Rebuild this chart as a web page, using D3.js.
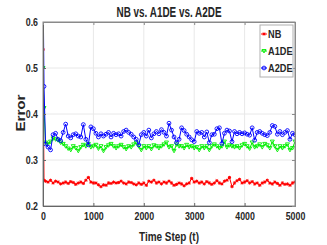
<!DOCTYPE html>
<html><head><meta charset="utf-8">
<script src="https://cdn.jsdelivr.net/npm/d3@7"></script>
<style>
html,body{margin:0;padding:0;background:#fff;}
svg text{font-family:"Liberation Sans",Arial,sans-serif;font-weight:bold;fill:#262626;}
</style></head><body>
<svg id="c" width="327" height="245"></svg>
<script>
const timeSteps = [0, 20].concat(d3.range(50, 5001, 50));
const xTicks = [0, 1000, 2000, 3000, 4000, 5000];
const yTicks = [0.2, 0.3, 0.4, 0.5, 0.6];
const seriesNames = ["NB", "A1DE", "A2DE"];

const nbValues = [0.54, 0.256, 0.254, 0.252, 0.256, 0.25, 0.254, 0.252, 0.248, 0.25, 0.252,
 0.249, 0.253, 0.251, 0.247, 0.25, 0.252, 0.249, 0.256, 0.262, 0.252,
 0.25, 0.25, 0.246, 0.242, 0.246, 0.245, 0.25, 0.249, 0.252, 0.25,
 0.251, 0.254, 0.25, 0.248, 0.252, 0.251, 0.248, 0.246, 0.25, 0.247,
 0.25, 0.245, 0.254, 0.252, 0.256, 0.25, 0.252, 0.248, 0.252, 0.25,
 0.254, 0.25, 0.245, 0.247, 0.25, 0.248, 0.244, 0.248, 0.25, 0.26,
 0.252, 0.254, 0.25, 0.252, 0.248, 0.253, 0.25, 0.247, 0.25, 0.255,
 0.25, 0.248, 0.254, 0.256, 0.262, 0.242, 0.25, 0.255, 0.258, 0.25,
 0.252, 0.255, 0.25, 0.253, 0.248, 0.25, 0.245, 0.25, 0.252, 0.256,
 0.25, 0.248, 0.252, 0.249, 0.245, 0.25, 0.247, 0.248, 0.245, 0.25, 0.252];

const a1deValues = [0.50, 0.413, 0.338, 0.335, 0.340, 0.347, 0.345, 0.343, 0.338, 0.335, 0.330,
 0.325, 0.322, 0.33, 0.326, 0.32, 0.328, 0.333, 0.33, 0.335, 0.328,
 0.33, 0.333, 0.325, 0.33, 0.32, 0.328, 0.332, 0.335, 0.33, 0.326,
 0.33, 0.333, 0.328, 0.324, 0.33, 0.328, 0.334, 0.338, 0.33, 0.322,
 0.33, 0.326, 0.33, 0.324, 0.332, 0.33, 0.326, 0.33, 0.334, 0.338,
 0.328, 0.33, 0.32, 0.334, 0.33, 0.33, 0.326, 0.333, 0.328, 0.33,
 0.326, 0.328, 0.322, 0.33, 0.326, 0.33, 0.322, 0.33, 0.334, 0.33,
 0.326, 0.33, 0.34, 0.328, 0.332, 0.33, 0.328, 0.33, 0.326, 0.332,
 0.335, 0.33, 0.325, 0.338, 0.328, 0.33, 0.334, 0.328, 0.335, 0.332,
 0.326, 0.34, 0.33, 0.322, 0.33, 0.326, 0.33, 0.334, 0.322, 0.326, 0.34];

const a2deValues = [0.70, 0.46, 0.335, 0.328, 0.322, 0.355, 0.358, 0.345, 0.342, 0.36, 0.378,
 0.352, 0.348, 0.355, 0.357, 0.352, 0.35, 0.377, 0.345, 0.333, 0.372,
 0.368, 0.358, 0.35, 0.357, 0.352, 0.356, 0.36, 0.35, 0.358, 0.355,
 0.357, 0.352, 0.362, 0.365, 0.36, 0.356, 0.35, 0.345, 0.333, 0.355,
 0.36, 0.352, 0.365, 0.348, 0.357, 0.362, 0.357, 0.366, 0.36, 0.352,
 0.38, 0.365, 0.35, 0.338, 0.345, 0.37, 0.364, 0.356, 0.35, 0.344,
 0.34, 0.362, 0.358, 0.36, 0.35, 0.361, 0.338, 0.355, 0.356, 0.368,
 0.37, 0.336, 0.358, 0.365, 0.363, 0.34, 0.362, 0.357, 0.36, 0.357,
 0.359, 0.356, 0.354, 0.37, 0.343, 0.36, 0.362, 0.358, 0.355, 0.353,
 0.36, 0.375, 0.373, 0.356, 0.362, 0.355, 0.36, 0.364, 0.345, 0.358, 0.355];

const colors = ["#ff0000", "#00ee00", "#0000ff"];
const allValues = [nbValues, a1deValues, a2deValues];

const svg = d3.select("#c");
const L = 43, R = 295, T = 22, B = 206;
const x = d3.scaleLinear().domain([0, 5000]).range([L, R]);
const y = d3.scaleLinear().domain([0.2, 0.6]).range([B, T]);

function condense(sel, ratio) {
  sel.each(function () {
    const w = this.getComputedTextLength();
    if (w > 0) d3.select(this).attr("textLength", w * ratio).attr("lengthAdjust", "spacingAndGlyphs");
  });
}

// grid
svg.append("g").selectAll("line").data(xTicks.slice(1, -1)).join("line")
  .attr("x1", d => x(d)).attr("x2", d => x(d)).attr("y1", T).attr("y2", B)
  .attr("stroke", "#e8e8e8").attr("stroke-width", 1);
svg.append("g").selectAll("line").data(yTicks.slice(1, -1)).join("line")
  .attr("y1", d => y(d)).attr("y2", d => y(d)).attr("x1", L).attr("x2", R)
  .attr("stroke", "#e8e8e8").attr("stroke-width", 1);

svg.append("defs").append("clipPath").attr("id", "clip")
  .append("rect").attr("x", L).attr("y", T).attr("width", R - L).attr("height", B - T);

const plot = svg.append("g").attr("clip-path", "url(#clip)");
const line = d3.line().x((d, i) => x(timeSteps[i])).y(d => y(d));

function drawMarker(g, k, cx, cy, c) {
  if (k === 0) {
    g.append("path").attr("d", `M${cx-1.6},${cy}H${cx+1.6}M${cx},${cy-1.6}V${cy+1.6}M${cx-1.2},${cy-1.2}L${cx+1.2},${cy+1.2}M${cx-1.2},${cy+1.2}L${cx+1.2},${cy-1.2}`)
      .attr("stroke", c).attr("stroke-width", 1).attr("fill", "none");
  } else if (k === 1) {
    g.append("path").attr("d", `M${cx-2},${cy-1.5}L${cx+2},${cy-1.5}L${cx},${cy+2}Z`)
      .attr("stroke", c).attr("stroke-width", 0.9).attr("fill", "none");
  } else {
    g.append("circle").attr("cx", cx).attr("cy", cy).attr("r", 1.9)
      .attr("stroke", c).attr("stroke-width", 0.9).attr("fill", "none");
  }
}

allValues.forEach((vals, k) => {
  const n = Math.min(vals.length, timeSteps.length);
  const v = vals.slice(0, n);
  plot.append("path").datum(v).attr("d", line)
    .attr("fill", "none").attr("stroke", colors[k]).attr("stroke-width", 1);
  const mg = plot.append("g");
  v.forEach((d, i) => drawMarker(mg, k, x(timeSteps[i]), y(d), colors[k]));
});

// box
svg.append("rect").attr("x", L).attr("y", T).attr("width", R - L).attr("height", B - T)
  .attr("fill", "none").attr("stroke", "#8a8a8a").attr("stroke-width", 1);

// axes
const xAxis = d3.axisBottom(x).tickValues(xTicks).tickSize(-3).tickPadding(6).tickFormat(d3.format("d"));
const gx = svg.append("g").attr("transform", `translate(0,${B})`).call(xAxis);
gx.select(".domain").attr("stroke", "#666");
gx.selectAll(".tick line").attr("stroke", "#666");
gx.selectAll("text").attr("font-size", 11).attr("fill", "#262626");

const yAxis = d3.axisLeft(y).tickValues(yTicks).tickSize(-3).tickPadding(5).tickFormat(d3.format(".1f"));
const gy = svg.append("g").attr("transform", `translate(${L},0)`).call(yAxis);
gy.select(".domain").attr("stroke", "#666");
gy.selectAll(".tick line").attr("stroke", "#666");
gy.selectAll("text").attr("font-size", 11).attr("fill", "#262626");

const gyr = svg.append("g").attr("transform", `translate(${R},0)`).call(d3.axisRight(y).tickValues(yTicks).tickSize(-3).tickFormat(""));
gyr.select(".domain").attr("stroke", "#8a8a8a");
gyr.selectAll(".tick line").attr("stroke", "#8a8a8a");
const gxt = svg.append("g").attr("transform", `translate(0,${T})`).call(d3.axisTop(x).tickValues(xTicks).tickSize(-3).tickFormat(""));
gxt.select(".domain").attr("stroke", "#8a8a8a");
gxt.selectAll(".tick line").attr("stroke", "#8a8a8a");
condense(gx.selectAll("text"), 0.8);
condense(gy.selectAll("text"), 0.8);

// title & labels
svg.append("text").attr("x", 169).attr("y", 17).attr("text-anchor", "middle")
  .attr("font-size", 14).attr("textLength", 105).attr("lengthAdjust", "spacingAndGlyphs")
  .text("NB vs. A1DE vs. A2DE");
svg.append("text").attr("x", 169).attr("y", 241).attr("text-anchor", "middle")
  .attr("font-size", 12.5).attr("textLength", 60).attr("lengthAdjust", "spacingAndGlyphs")
  .text("Time Step (t)");
svg.append("text").attr("transform", "translate(25,113) rotate(-90)").attr("text-anchor", "middle")
  .attr("font-size", 12.5).attr("textLength", 37).attr("lengthAdjust", "spacingAndGlyphs")
  .text("Error");

// legend
const lg = svg.append("g");
lg.append("rect").attr("x", 260).attr("y", 25).attr("width", 33).attr("height", 52)
  .attr("fill", "#fff").attr("stroke", "#b0b0b0").attr("stroke-width", 1);
seriesNames.forEach((name, k) => {
  const yy = 34 + k * 17;
  lg.append("line").attr("x1", 261).attr("x2", 267).attr("y1", yy).attr("y2", yy)
    .attr("stroke", colors[k]).attr("stroke-width", 1);
  drawMarker(lg, k, 264, yy, colors[k]);
  lg.append("text").attr("x", 268).attr("y", yy + 4).attr("font-size", 11.5).text(name);
});
condense(lg.selectAll("text"), 0.8);
</script>
</body></html>
